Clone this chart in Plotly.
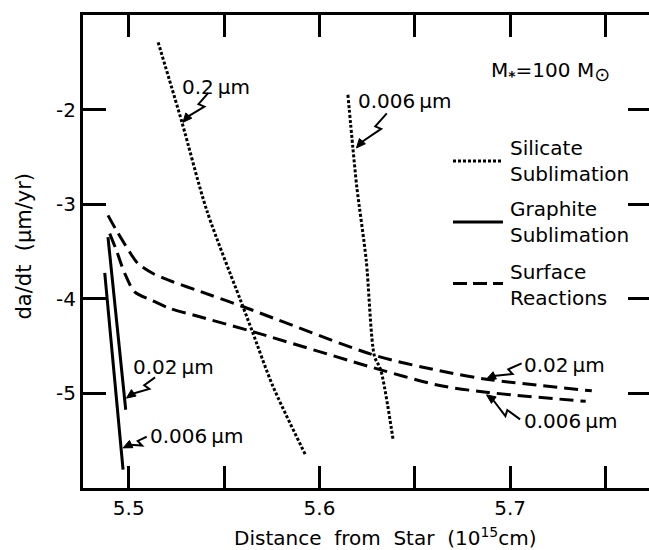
import math
import plotly.graph_objects as go

# ---- data -----------------------------------------------------------------
# distance from star in units of 1e15 cm, log10 of da/dt in micron/yr

# silicate sublimation, grain radius 0.2 micron
sil_02_x = [5.5154, 5.5278, 5.5409, 5.5603, 5.5648, 5.5755, 5.5926]
sil_02_y = [-1.289, -2.128, -3.065, -4.105, -4.346, -4.920, -5.647]

# silicate sublimation, grain radius 0.006 micron
sil_006_x = [5.6149, 5.6175, 5.6196, 5.6245, 5.6288, 5.6321, 5.6386]
sil_006_y = [-1.843, -2.401, -2.823, -3.588, -4.604, -4.751, -5.489]

# graphite sublimation
gra_002_x = [5.4891, 5.4984]
gra_002_y = [-3.347, -5.173]
gra_006_x = [5.4874, 5.4970]
gra_006_y = [-3.726, -5.805]

# surface reactions
sur_002_x = [5.4891, 5.4935, 5.4988, 5.5048, 5.5127, 5.5232, 5.5355, 5.5604,
             5.6300, 5.6631, 5.6876, 5.7428]
sur_002_y = [-3.118, -3.276, -3.452, -3.627, -3.732, -3.821, -3.908, -4.087,
             -4.604, -4.760, -4.850, -4.973]
sur_006_x = [5.4900, 5.4935, 5.4979, 5.5031, 5.5119, 5.5215, 5.5372, 5.5648,
             5.6321, 5.6631, 5.6885, 5.7396]
sur_006_y = [-3.311, -3.487, -3.732, -3.926, -4.014, -4.101, -4.190, -4.346,
             -4.751, -4.917, -4.990, -5.084]

x_major = [5.5, 5.6, 5.7]
x_major_text = ["5.5", "5.6", "5.7"]
x_minor = [5.55, 5.65, 5.75]
y_tickvals = [-2, -3, -4, -5]
y_ticktext = ["-2", "-3", "-4", "-5"]

X_RANGE = [5.476, 5.7728]
Y_RANGE = [-6, -1]

# curve labels: text, label centre (x, y), arrow tail (x, y), arrow tip (x, y)
curve_labels = [
    ("0.2\u2009\u03bcm",   5.5456, -1.759, 5.5416, -1.825, 5.5284, -2.135),
    ("0.006\u2009\u03bcm", 5.6448, -1.906, 5.6353, -2.039, 5.6194, -2.405),
    ("0.02\u2009\u03bcm",  5.5232, -4.725, 5.5138, -4.830, 5.4988, -5.050),
    ("0.006\u2009\u03bcm", 5.5355, -5.454, 5.5094, -5.458, 5.4970, -5.576),
    ("0.02\u2009\u03bcm",  5.7287, -4.699, 5.7060, -4.682, 5.6876, -4.849),
    ("0.006\u2009\u03bcm", 5.7318, -5.296, 5.7052, -5.274, 5.6876, -5.015),
]

# ---- styling ---------------------------------------------------------------
FONT = "DejaVu Sans"
INK = "black"
DOT = "3px,2px"
DASH = "14px,7px"

W, H = 649, 550
M_L, M_R, M_T, M_B = 83, 0, 15, 62
PW, PH = W - M_L - M_R, H - M_T - M_B
PX_PER_X = PW / (X_RANGE[1] - X_RANGE[0])
PX_PER_Y = PH / (Y_RANGE[1] - Y_RANGE[0])

fig = go.Figure()


def curve(x, y, dash, smooth=True):
    fig.add_trace(go.Scatter(
        x=x, y=y, mode="lines",
        line=dict(color=INK, width=3, dash=dash,
                  shape="spline" if smooth else "linear", smoothing=0.8),
        showlegend=False, hoverinfo="skip"))


curve(sil_02_x, sil_02_y, DOT)
curve(sil_006_x, sil_006_y, DOT)
curve(gra_002_x, gra_002_y, "solid", smooth=False)
curve(gra_006_x, gra_006_y, "solid", smooth=False)
curve(sur_002_x, sur_002_y, DASH)
curve(sur_006_x, sur_006_y, DASH)

# empty trace so that the right-hand tick axis is laid out
fig.add_trace(go.Scatter(x=[], y=[], yaxis="y2", showlegend=False))


def bolt(tx, ty, px, py):
    """Lightning-style pointer from (tx, ty) to (px, py), built in screen
    pixels and returned as a line path and an arrowhead path in data units."""
    # screen coordinates (y down)
    sx0, sy0 = tx * PX_PER_X, -ty * PX_PER_Y
    sx1, sy1 = px * PX_PER_X, -py * PX_PER_Y
    dx, dy = sx1 - sx0, sy1 - sy0
    L = math.hypot(dx, dy)
    ux, uy = dx / L, dy / L
    nx, ny = uy, -ux
    ax_, ay_ = sx0 + 0.38 * L * ux, sy0 + 0.38 * L * uy
    bx_, by_ = ax_ + 6 * nx - 2 * ux, ay_ + 6 * ny - 2 * uy
    head = 9.0
    qx, qy = sx1 - head * ux, sy1 - head * uy
    c1 = (qx + 4 * nx, qy + 4 * ny)
    c2 = (qx - 4 * nx, qy - 4 * ny)

    def d(pt):
        return "%.5f,%.5f" % (pt[0] / PX_PER_X, -pt[1] / PX_PER_Y)

    line = "M%s L%s L%s L%s" % (d((sx0, sy0)), d((ax_, ay_)), d((bx_, by_)),
                                d((qx + 1.5 * ux, qy + 1.5 * uy)))
    tip = "M%s L%s L%s Z" % (d((sx1, sy1)), d(c1), d(c2))
    return line, tip


shapes = []
annotations = []
for text, lx, ly, tx, ty, px, py in curve_labels:
    annotations.append(dict(
        x=lx, y=ly, xref="x", yref="y", text=text, showarrow=False,
        xanchor="center", yanchor="middle",
        font=dict(family=FONT, size=20, color=INK)))
    line_path, tip_path = bolt(tx, ty, px, py)
    shapes.append(dict(type="path", xref="x", yref="y", path=line_path,
                       line=dict(color=INK, width=2)))
    shapes.append(dict(type="path", xref="x", yref="y", path=tip_path,
                       fillcolor=INK, line=dict(color=INK, width=1)))

# key entries: sample line style, caption, vertical position in the axes box
key_items = [
    (DOT, 0.6913, "Silicate<br>Sublimation", 0.6903),
    ("solid", 0.5624, "Graphite<br>Sublimation", 0.5617),
    ("14px,6px", 0.4323, "Surface<br>Reactions", 0.4285),
]
for dash, ky, caption, cy in key_items:
    shapes.append(dict(type="line", xref="x domain", yref="y domain",
                       x0=0.6537, x1=0.7420, y0=ky, y1=ky,
                       line=dict(color=INK, width=3, dash=dash)))
    annotations.append(dict(
        x=0.7509, y=cy, xref="x domain", yref="y domain", text=caption,
        showarrow=False, xanchor="left", yanchor="middle", align="left",
        font=dict(family=FONT, size=20, color=INK)))

annotations.append(dict(
    x=5.7214, y=-1.60, xref="x", yref="y",
    text=("M<sub><b>*</b></sub>=100 M"
          "<sub><span style='font-size:19px'>\u2299</span></sub>"),
    showarrow=False, font=dict(family=FONT, size=20, color=INK)))

annotations.append(dict(
    x=-0.1025, y=0.5127, xref="paper", yref="paper", textangle=-90,
    text="da/dt\u00a0\u00a0(\u03bcm/yr)", showarrow=False,
    xanchor="center", yanchor="middle",
    font=dict(family=FONT, size=21, color=INK)))

annotations.append(dict(
    x=0.5353, y=-0.1036, xref="paper", yref="paper",
    text="Distance\u00a0 from\u00a0 Star\u00a0 (10<sup>15</sup>cm)",
    showarrow=False, xanchor="center", yanchor="middle",
    font=dict(family=FONT, size=20, color=INK)))

fig.update_layout(
    width=W, height=H,
    margin=dict(l=M_L, r=M_R, t=M_T, b=M_B),
    paper_bgcolor="white", plot_bgcolor="white",
    showlegend=False,
    xaxis=dict(range=X_RANGE, tickvals=x_major, ticktext=x_major_text,
               ticks="inside", ticklen=22, tickwidth=3, tickcolor=INK,
               minor=dict(tickvals=x_minor, ticks="inside", ticklen=22,
                          tickwidth=3, tickcolor=INK, showgrid=False),
               showline=True, linewidth=3, linecolor=INK, mirror="ticks",
               showgrid=False, zeroline=False,
               tickfont=dict(family=FONT, size=20, color=INK)),
    yaxis=dict(range=Y_RANGE, tickvals=y_tickvals, ticktext=y_ticktext,
               ticks="inside", ticklen=23, tickwidth=3, tickcolor=INK,
               showline=True, linewidth=3, linecolor=INK,
               showgrid=False, zeroline=False,
               tickfont=dict(family=FONT, size=20, color=INK)),
    yaxis2=dict(range=Y_RANGE, overlaying="y", side="right", anchor="x",
                tickvals=y_tickvals, ticks="inside", ticklen=21, tickwidth=3,
                tickcolor=INK, showticklabels=False, showline=False,
                showgrid=False, zeroline=False),
    shapes=shapes,
    annotations=annotations,
)

fig.write_html("out.html")
